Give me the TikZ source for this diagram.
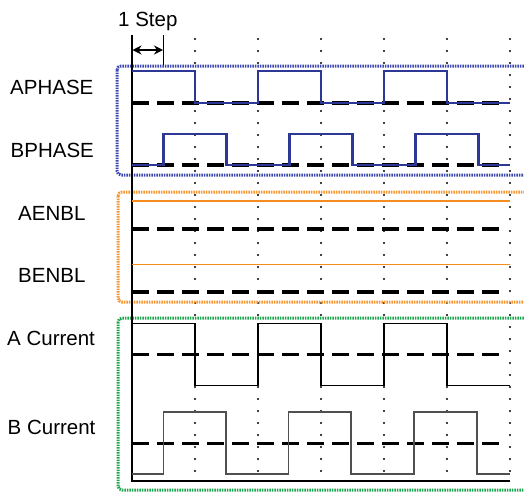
\documentclass[tikz,border=0pt]{standalone}
\usepackage{fontspec}
\setmainfont{Liberation Sans}
\usetikzlibrary{arrows.meta}
\definecolor{sigblue}{RGB}{45,55,150}
\definecolor{boxblue}{RGB}{60,70,175}
\definecolor{boxorange}{RGB}{245,150,50}
\definecolor{boxgreen}{RGB}{30,165,80}
\definecolor{enorange}{RGB}{245,140,30}
\definecolor{bgray}{RGB}{80,80,80}
\begin{document}
\begin{tikzpicture}[x=1pt,y=-1pt,
  lbl/.style={font=\fontsize{20.5}{24}\selectfont, anchor=base west, inner sep=0pt},
  gridline/.style={line width=2.3, dash pattern=on 0pt off 12pt, line cap=round},
  refdash/.style={line width=3.6, dash pattern=on 17pt off 8pt},
  groupbox/.style={line width=3, dash pattern=on 1.5pt off 1pt, rounded corners=4},
  sigph/.style={sigblue, line width=2.2},
  sigen/.style={enorange, line width=1.2},
  sigcur/.style={line width=1.5},
]
\useasboundingbox (0,0) rectangle (524,491);
\clip (0,0) rectangle (524,491);

% labels
\node[lbl] (step) at (118,26.7) {1 Step};
\node[lbl] (aph) at (10,94.5) {APHASE};
\node[lbl] (bph) at (10.5,157) {BPHASE};
\node[lbl] (aen) at (18,220) {AENBL};
\node[lbl] (ben) at (18,282.5) {BENBL};
\node[lbl] (acur) at (7,345.7) {A Current};
\node[lbl] (bcur) at (7.5,434) {B Current};

% dotted grid lines
\foreach \x in {195,258,321,384,447,510}
  \draw[gridline] (\x,39) -- (\x,479);

% group boxes
\draw[groupbox, boxblue] (117,66) rectangle (545,175);
\draw[groupbox, boxorange] (118,192) rectangle (545,302);
\draw[groupbox, boxgreen] (118,318) rectangle (545,490);

% reference dashed lines
\foreach \y in {103,165,229,291.7,354.3,443.3}
  \draw[refdash] (132,\y) -- (500,\y);

% axes
\coordinate (otop) at (132,35);
\coordinate (obot) at (132,481);
\coordinate (oright) at (510,481);
\draw[line width=2] (otop) -- (obot) -- (oright);

% step marker
\coordinate (stop) at (163.5,35);
\coordinate (sbot) at (163.5,65);
\draw[line width=1] (stop) -- (sbot);
\coordinate (sa) at (132.5,50);
\coordinate (sb) at (163,50);
\draw[line width=1.5, {Stealth[length=9pt,width=9pt]}-{Stealth[length=9pt,width=9pt]}] (sa) -- (sb);

% APHASE
\draw[sigph] (132,71) -- (195,71) -- (195,103) -- (258,103) -- (258,71) -- (321,71) -- (321,103)
  -- (384,103) -- (384,71) -- (447,71) -- (447,103) -- (510,103);
% BPHASE
\draw[sigph] (132,165) -- (163.5,165) -- (163.5,134) -- (226.5,134) -- (226.5,165) -- (289.5,165)
  -- (289.5,134) -- (352.5,134) -- (352.5,165) -- (415.5,165) -- (415.5,134) -- (478.5,134)
  -- (478.5,165) -- (510,165);

% enables
\draw[sigen] (132,201) -- (510,201);
\draw[sigen] (132,264.5) -- (510,264.5);

% A current
\draw[sigcur, black] (132,323.3) -- (195,323.3) -- (195,385.7) -- (258,385.7) -- (258,323.3)
  -- (321,323.3) -- (321,385.7) -- (384,385.7) -- (384,323.3) -- (447,323.3) -- (447,385.7) -- (510,385.7);
% B current
\draw[sigcur, bgray, line width=1.8] (132,474.3) -- (163.5,474.3) -- (163.5,411.7) -- (226,411.7)
  -- (226,474.3) -- (288.5,474.3) -- (288.5,411.7) -- (351,411.7) -- (351,474.3) -- (414,474.3)
  -- (414,411.7) -- (477,411.7) -- (477,474.3) -- (510,474.3);
\end{tikzpicture}
\end{document}
